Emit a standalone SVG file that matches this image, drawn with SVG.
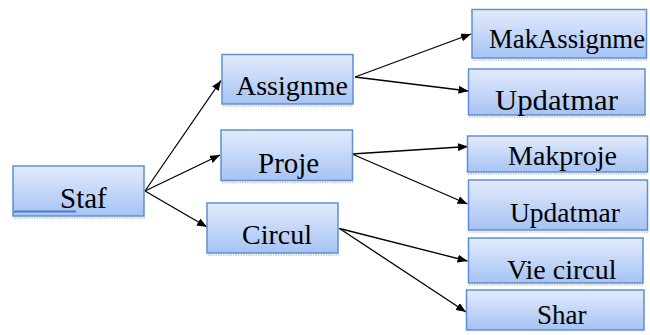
<svg xmlns="http://www.w3.org/2000/svg" width="650" height="335" viewBox="0 0 650 335">
<defs>
<linearGradient id="g" x1="0" y1="0" x2="0" y2="1">
<stop offset="0" stop-color="#e3ebfc"/>
<stop offset="1" stop-color="#a6c3f4"/>
</linearGradient>
<marker id="ah" viewBox="0 0 10 8" refX="10" refY="4" markerWidth="10" markerHeight="8" markerUnits="userSpaceOnUse" orient="auto">
<path d="M0,0 L10,4 L0,8 z" fill="#000"/>
</marker>
</defs>
<style>
.box{fill:url(#g);stroke:#5e8fd3;stroke-width:1.5}
.sh{fill:none;stroke:#c8c8c8;stroke-width:1.5;stroke-dasharray:1.5 1}
.c{stroke:#000;stroke-width:1.3;fill:none;marker-end:url(#ah)}
</style>
<g id="connectors">
<line class="c" x1="145" y1="191" x2="221" y2="80.5"/>
<line class="c" x1="145" y1="191" x2="220" y2="155"/>
<line class="c" x1="145" y1="191" x2="207" y2="227"/>
<line class="c" x1="355" y1="77" x2="471" y2="34"/>
<line class="c" x1="355" y1="77" x2="468.5" y2="91"/>
<line class="c" x1="352" y1="154" x2="468" y2="146.5"/>
<line class="c" x1="352" y1="154" x2="467.5" y2="204"/>
<line class="c" x1="339.5" y1="228.5" x2="467.5" y2="261"/>
<line class="c" x1="339.5" y1="228.5" x2="466" y2="312"/>
</g>
<g id="staf">
<line class="sh" x1="14" y1="218" x2="145" y2="218"/>
<rect class="box" x="13" y="166" width="131" height="50"/>
<line x1="14" y1="211.5" x2="76" y2="211.5" stroke="#4a7cc7" stroke-width="2"/>
<text x="60" y="208" font-family="Liberation Serif" font-size="29">Staf</text>
</g>
<g id="assignme">
<line class="sh" x1="223" y1="106" x2="353" y2="106"/>
<rect class="box" x="222" y="54.5" width="131" height="49.5"/>
<text x="236" y="95" font-family="Liberation Serif" font-size="28">Assignme</text>
</g>
<g id="proje">
<line class="sh" x1="222" y1="182.5" x2="353" y2="182.5"/>
<rect class="box" x="221" y="130" width="131.5" height="50.5"/>
<text x="258" y="173" font-family="Liberation Serif" font-size="29">Proje</text>
</g>
<g id="circul">
<line class="sh" x1="208" y1="255" x2="339" y2="255"/>
<rect class="box" x="207" y="203" width="131" height="50"/>
<text x="242" y="244" font-family="Liberation Serif" font-size="28">Circul</text>
</g>
<g id="makassignme">
<line class="sh" x1="473" y1="60" x2="647" y2="60"/>
<rect class="box" x="472" y="9.5" width="174.5" height="48.5"/>
<text x="489" y="48" font-family="Liberation Serif" font-size="28" textLength="156" lengthAdjust="spacingAndGlyphs">MakAssignme</text>
</g>
<g id="updatmar1">
<line class="sh" x1="469" y1="117" x2="645" y2="117"/>
<rect class="box" x="468.5" y="69" width="176.5" height="46"/>
<text x="495" y="110" font-family="Liberation Serif" font-size="29" textLength="123" lengthAdjust="spacingAndGlyphs">Updatmar</text>
</g>
<g id="makproje">
<line class="sh" x1="468" y1="174" x2="648" y2="174"/>
<rect class="box" x="467.5" y="136" width="180" height="36"/>
<text x="508" y="165" font-family="Liberation Serif" font-size="28">Makproje</text>
</g>
<g id="updatmar2">
<line class="sh" x1="469" y1="232" x2="648" y2="232"/>
<rect class="box" x="468.5" y="180" width="179" height="50"/>
<text x="510" y="222" font-family="Liberation Serif" font-size="28" textLength="110" lengthAdjust="spacingAndGlyphs">Updatmar</text>
</g>
<g id="viecircul">
<line class="sh" x1="469" y1="285" x2="643" y2="285"/>
<rect class="box" x="468.5" y="238" width="174.5" height="45"/>
<text x="507" y="279" font-family="Liberation Serif" font-size="28">Vie circul</text>
</g>
<g id="shar">
<rect class="box" x="466.5" y="290" width="177.5" height="40"/>
<text x="537" y="324" font-family="Liberation Serif" font-size="27">Shar</text>
</g>
</svg>
